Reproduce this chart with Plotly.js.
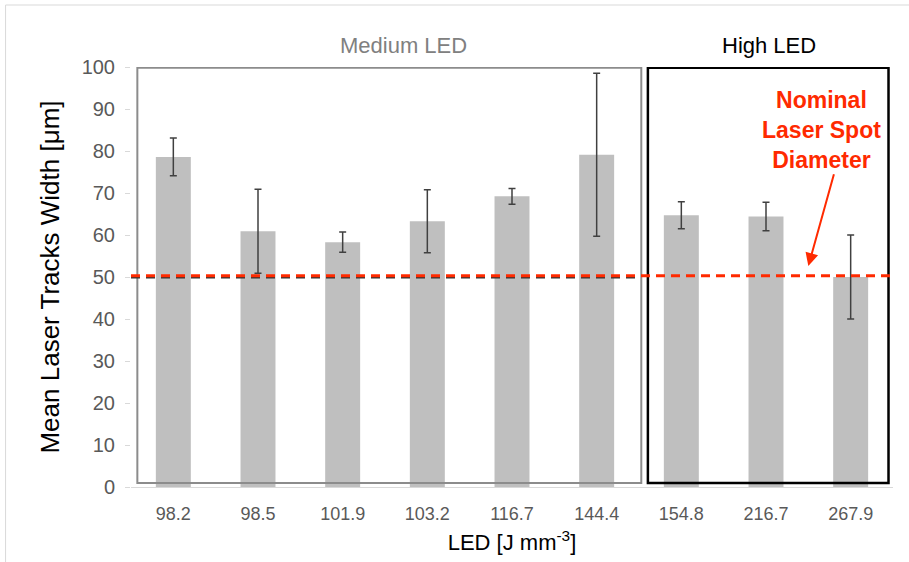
<!DOCTYPE html>
<html>
<head>
<meta charset="utf-8">
<script src="https://cdn.plot.ly/plotly-3.0.1.min.js"></script>
<style>html,body{margin:0;padding:0;background:#fff;}#chart{width:909px;height:562px;}</style>
</head>
<body>
<div id="chart"></div>
<script>
// ---- data ----
const categories = ["98.2", "98.5", "101.9", "103.2", "116.7", "144.4", "154.8", "216.7", "267.9"];
const meanWidth = [78.6, 60.9, 58.3, 63.3, 69.2, 79.1, 64.7, 64.4, 50.0];
const stdWidth  = [4.5, 10.0, 2.4, 7.5, 1.9, 19.4, 3.2, 3.4, 10.0];
const nominalSpot = 50.3;
const groupLabels = ["Medium LED", "High LED"];
const noteText = ["Nominal", "Laser Spot", "Diameter"];
const xTitle = "LED [J mm<sup>-3</sup>]";
const yTitle = "Mean Laser Tracks Width [μm]";

const trace = {
  type: "bar",
  x: categories,
  y: meanWidth,
  marker: {color: "#bfbfbf"},
  error_y: {type: "data", array: stdWidth, visible: true, color: "#404040", thickness: 1.5, width: 3.5},
  hoverinfo: "x+y"
};

const layout = {
  width: 909, height: 562,
  margin: {l: 130.6, r: 15.6, t: 67, b: 75},
  paper_bgcolor: "#ffffff", plot_bgcolor: "#ffffff",
  showlegend: false,
  bargap: 0.587,
  font: {family: "Liberation Sans, Arial, sans-serif", color: "#595959"},
  xaxis: {
    type: "category",
    range: [-0.5, 8.5],
    showgrid: false, zeroline: false,
    showline: true, linecolor: "#d9d9d9", linewidth: 1,
    ticks: "", ticklabelstandoff: 10,
    tickfont: {family: "Liberation Sans Narrow, Liberation Sans, Arial", size: 18, color: "#595959"},
    title: {text: xTitle, font: {family: "Liberation Sans Narrow, Liberation Sans, Arial", size: 22, color: "#000"}, standoff: 12}
  },
  yaxis: {
    range: [0, 100], dtick: 10,
    showgrid: false, zeroline: false,
    showline: false,
    ticks: "outside", ticklen: 5, tickcolor: "#d9d9d9",
    ticklabelstandoff: 6,
    tickfont: {family: "Liberation Sans, Arial", size: 20, color: "#595959"},
    title: {text: yTitle, font: {family: "Liberation Sans, Arial", size: 26, color: "#000"}, standoff: 14}
  },
  shapes: [
    // outer image frame (left and top edges)
    {type: "line", xref: "paper", yref: "paper", x0: -0.1646, x1: -0.1646, y0: 1.1476, y1: -0.19, line: {color: "#d9d9d9", width: 1}},
    {type: "line", xref: "paper", yref: "paper", x0: -0.1646, x1: 1.03, y0: 1.1476, y1: 1.1476, line: {color: "#d9d9d9", width: 1}},
    // group boxes
    {type: "rect", xref: "x", yref: "y", x0: -0.425, x1: 5.527, y0: 0.95, y1: 99.85, line: {color: "#8c8c8c", width: 2}, fillcolor: "rgba(0,0,0,0)"},
    {type: "rect", xref: "x", yref: "y", x0: 5.605, x1: 8.447, y0: 0.95, y1: 99.85, line: {color: "#000000", width: 2.5}, fillcolor: "rgba(0,0,0,0)"},
    // faint black dashed line beneath the red one (medium region)
    {type: "line", xref: "paper", yref: "y", x0: 0, x1: 0.669, y0: 49.8, y1: 49.8, line: {color: "#333333", width: 1.5, dash: "9px,6px"}},
    // nominal spot diameter line
    {type: "line", xref: "paper", yref: "y", x0: 0, x1: 1, y0: nominalSpot, y1: nominalSpot, line: {color: "#ff2a00", width: 3, dash: "9px,6px"}}
  ],
  annotations: [
    {xref: "x", yref: "paper", x: 2.72, y: 1.05, yanchor: "middle", text: groupLabels[0], showarrow: false, font: {family: "Liberation Sans, Arial", size: 22, color: "#808080"}},
    {xref: "x", yref: "paper", x: 7.03, y: 1.05, yanchor: "middle", text: groupLabels[1], showarrow: false, font: {family: "Liberation Sans, Arial", size: 22, color: "#000000"}},
    {xref: "x", yref: "y", x: 7.65, y: 85, yanchor: "middle", text: "<b>" + noteText.join("<br>") + "</b>", showarrow: false, align: "center",
     font: {family: "Liberation Sans, Arial", size: 23, color: "#ff2a00"}},
    {xref: "x", yref: "y", x: 7.5, y: 52.6, axref: "x", ayref: "y", ax: 7.807, ay: 74.8, text: "", showarrow: true,
     arrowhead: 2, arrowsize: 1.3, arrowwidth: 2, arrowcolor: "#ff2a00", standoff: 0}
  ]
};

Plotly.newPlot("chart", [trace], layout, {displayModeBar: false, staticPlot: true});
</script>
</body>
</html>
